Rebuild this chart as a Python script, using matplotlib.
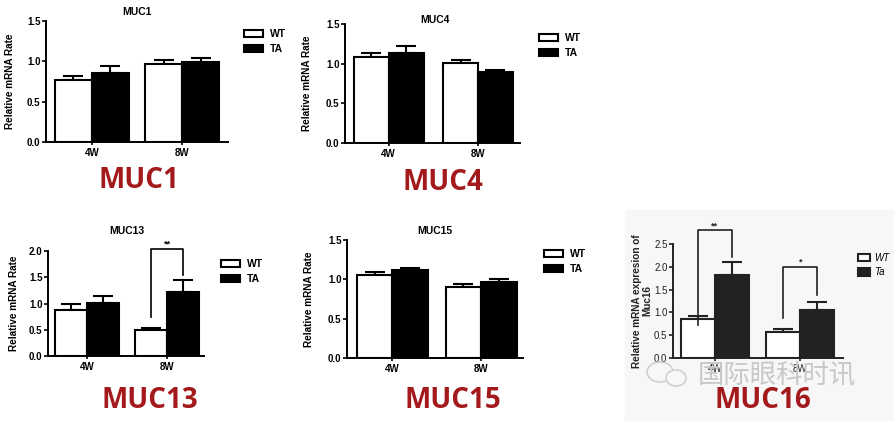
import numpy as np
import matplotlib
matplotlib.use('Agg')
import matplotlib.pyplot as plt
from matplotlib.patches import Patch, Rectangle, Ellipse

W, H = 895, 421

groups = ["4W", "8W"]

muc1_wt, muc1_wt_err = [0.77, 0.97], [0.05, 0.05]
muc1_ta, muc1_ta_err = [0.86, 0.99], [0.08, 0.05]
muc4_wt, muc4_wt_err = [1.08, 1.01], [0.06, 0.04]
muc4_ta, muc4_ta_err = [1.14, 0.89], [0.08, 0.03]
muc13_wt, muc13_wt_err = [0.88, 0.50], [0.11, 0.03]
muc13_ta, muc13_ta_err = [1.01, 1.22], [0.13, 0.22]
muc15_wt, muc15_wt_err = [1.05, 0.90], [0.04, 0.04]
muc15_ta, muc15_ta_err = [1.12, 0.96], [0.03, 0.05]
muc16_wt, muc16_wt_err = [0.85, 0.58], [0.08, 0.06]
muc16_ta, muc16_ta_err = [1.83, 1.05], [0.27, 0.17]

# significance brackets: (group, left leg bottom, top, right leg bottom, stars)
muc13_sig = [(1, 0.74, 2.04, 1.54, "**")]
muc16_sig = [(0, 0.72, 2.80, 2.21, "**"), (1, 0.88, 2.00, 1.38, "*")]

plt.rcParams['font.family'] = ['Liberation Sans', 'DejaVu Sans']

fig = plt.figure(figsize=(W / 100, H / 100), dpi=100)
fig.patch.set_facecolor('white')

# light grey backdrop of the MUC16 screenshot
bg = Rectangle((625 / W, 0), 1 - 625 / W, 1 - 210 / H,
               transform=fig.transFigure, color='#f7f7f7', zorder=-5)
fig.patches.append(bg)


def px_axes(x0, y0, x1, y1):
    return fig.add_axes([x0 / W, 1 - y1 / H, (x1 - x0) / W, (y1 - y0) / H])


def fxy(x, y):
    return x / W, 1 - y / H


def draw_panel(ax, wt, wt_err, ta, ta_err, ymax, ystep, xlim, width,
               ylabel, ylabel_x, color='black', legend_xy=(0, 0),
               leg_labels=("WT", "TA"), italic=False, sig=()):
    x = np.arange(len(groups))
    ax.set_facecolor('none')
    ax.bar(x - width / 2, wt, width, color='white', edgecolor=color,
           linewidth=1.5, zorder=2)
    ax.bar(x + width / 2, ta, width, color=color, edgecolor=color,
           linewidth=1.5, zorder=2)
    ax.errorbar(x - width / 2, wt, yerr=[np.zeros(len(wt)), wt_err],
                fmt='none', ecolor=color, elinewidth=1.5, capsize=7,
                capthick=1.5, zorder=1)
    ax.errorbar(x + width / 2, ta, yerr=[np.zeros(len(ta)), ta_err],
                fmt='none', ecolor=color, elinewidth=1.5, capsize=7,
                capthick=1.5, zorder=1)
    ax.set_xlim(*xlim)
    ax.set_ylim(0, ymax)
    ticks = np.arange(0, ymax + 1e-9, ystep)
    ax.set_yticks(ticks)
    ax.set_yticklabels([f"{v:.1f}" for v in ticks])
    ax.set_xticks(x)
    ax.set_xticklabels(groups)
    for s in ['top', 'right']:
        ax.spines[s].set_visible(False)
    for s in ['left', 'bottom']:
        ax.spines[s].set_linewidth(1.4)
        ax.spines[s].set_color(color)
    ax.tick_params(axis='y', length=3, width=1.2, pad=1, labelsize=7,
                   colors=color)
    ax.tick_params(axis='x', length=2, width=1.2, pad=2, labelsize=7,
                   colors=color)
    for lab in ax.get_xticklabels() + ax.get_yticklabels():
        lab.set_fontweight('bold')
    ax.set_ylabel(ylabel, fontsize=7.2, fontweight='bold', color=color,
                  linespacing=1.1)
    ax.yaxis.set_label_coords(ylabel_x, 0.5)

    for g, lo, top, ro, stars in sig:
        xl, xr = g - width / 2, g + width / 2
        ax.plot([xl, xl, xr, xr], [lo, top, top, ro], color=color,
                linewidth=1.2, clip_on=False)
        ax.text(g, top, stars, ha='center', va='bottom', fontsize=6.5,
                fontweight='bold', color=color, clip_on=False)

    handles = [Patch(facecolor='white', edgecolor=color, linewidth=1.5),
               Patch(facecolor=color, edgecolor=color, linewidth=1.5)]
    ax.legend(handles, leg_labels, loc='upper left',
              bbox_to_anchor=fxy(*legend_xy), bbox_transform=fig.transFigure,
              frameon=False, handlelength=1.8, handleheight=0.7,
              handletextpad=0.7, labelspacing=0.45, borderpad=0,
              prop={'size': 7.5, 'weight': 'bold',
                    'style': 'italic' if italic else 'normal'})


ax1 = px_axes(46, 21, 228, 142)
draw_panel(ax1, muc1_wt, muc1_wt_err, muc1_ta, muc1_ta_err, 1.5, 0.5,
           (-0.51, 1.51), 0.41, "Relative mRNA Rate", -0.17,
           legend_xy=(239, 24))

ax2 = px_axes(345, 24, 520, 143)
draw_panel(ax2, muc4_wt, muc4_wt_err, muc4_ta, muc4_ta_err, 1.5, 0.5,
           (-0.49, 1.47), 0.39, "Relative mRNA Rate", -0.19,
           legend_xy=(534, 28))

ax3 = px_axes(48, 251, 204, 356)
draw_panel(ax3, muc13_wt, muc13_wt_err, muc13_ta, muc13_ta_err, 2.0, 0.5,
           (-0.49, 1.46), 0.40, "Relative mRNA Rate", -0.186,
           legend_xy=(216, 254), sig=muc13_sig)

ax4 = px_axes(347, 240, 523, 358)
draw_panel(ax4, muc15_wt, muc15_wt_err, muc15_ta, muc15_ta_err, 1.5, 0.5,
           (-0.51, 1.47), 0.40, "Relative mRNA Rate", -0.19,
           legend_xy=(539, 244))

ax5 = px_axes(673, 244, 843, 358)
draw_panel(ax5, muc16_wt, muc16_wt_err, muc16_ta, muc16_ta_err, 2.5, 0.5,
           (-0.49, 1.50), 0.40, "Relative mRNA expresion of\nMuc16", -0.12,
           color='#222222', legend_xy=(854, 249), leg_labels=("WT", "Ta"),
           italic=True, sig=muc16_sig)
for lab in ax5.get_xticklabels() + ax5.get_yticklabels():
    lab.set_fontweight('normal')
# the MUC16 legend is tighter and sits at the right edge
ax5.legend(ax5.legend_.legend_handles, ["WT", "Ta"], loc='upper left',
           bbox_to_anchor=fxy(853, 248), bbox_transform=fig.transFigure,
           frameon=False, handlelength=1.2, handleheight=0.8,
           handletextpad=0.5, labelspacing=0.45, borderpad=0,
           prop={'size': 7, 'style': 'italic'})

# panel titles
titles = ["MUC1", "MUC4", "MUC13", "MUC15"]
title_pos = [(137, 12), (435, 20), (127, 231), (435, 231)]
for t, (tx, ty) in zip(titles, title_pos):
    fig.text(*fxy(tx, ty), t, ha='center', va='center', fontsize=7.5,
             fontweight='bold')

# watermark
fig.text(*fxy(777, 376), "国际眼科时讯", ha='center', va='center',
         fontsize=19, color='#c8c8c8', family=['Noto Sans CJK SC'],
         fontweight='light', zorder=1)
fig.patches.append(Ellipse(fxy(660, 372), 26 / W, 20 / H,
                           transform=fig.transFigure, fill=False,
                           edgecolor='#d0d0d0', linewidth=1.2, zorder=1))
fig.patches.append(Ellipse(fxy(676, 378), 20 / W, 16 / H,
                           transform=fig.transFigure, facecolor='#f7f7f7',
                           edgecolor='#d0d0d0', linewidth=1.2, zorder=1))

# big red labels
big_labels = ["MUC1", "MUC4", "MUC13", "MUC15", "MUC16"]
big_pos = [(139, 180), (443, 182), (150, 401), (453, 401), (763, 401)]
for t, (tx, ty) in zip(big_labels, big_pos):
    fig.text(*fxy(tx, ty), t, ha='center', va='center', fontsize=20,
             fontweight='bold', color='#a3191c', family=['Open Sans'])

fig.savefig("out.png", dpi=100)
